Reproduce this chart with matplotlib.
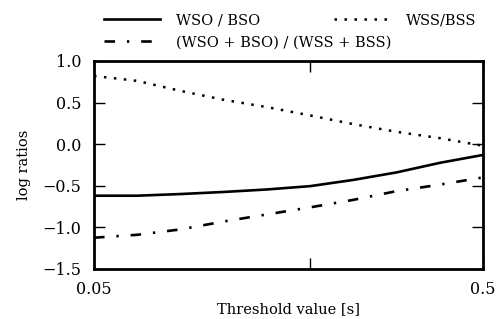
import matplotlib
matplotlib.use("Agg")
import matplotlib.pyplot as plt

plt.rcParams['font.family'] = ['DejaVu Serif']

# threshold values [s]
threshold = [0.05, 0.10, 0.15, 0.20, 0.25, 0.30, 0.35, 0.40, 0.45, 0.50]

# log ratios
wso_bso = [-0.62, -0.62, -0.60, -0.575, -0.545, -0.505, -0.43, -0.34, -0.225, -0.13]
wss_bss = [0.82, 0.76, 0.64, 0.533, 0.445, 0.345, 0.24, 0.148, 0.072, -0.02]
sum_ratio = [-1.125, -1.09, -1.025, -0.93, -0.845, -0.76, -0.67, -0.565, -0.487, -0.40]

xticks = [0.05, 0.3, 0.5]
xticklabels = ['0.05', '', '0.5']
yticks = [-1.5, -1.0, -0.5, 0.0, 0.5, 1.0]

fig = plt.figure(figsize=(5, 3.19), dpi=100)
ax = fig.add_axes([0.188, 0.157, 0.778, 0.652])

ax.plot(threshold, wso_bso, color='black', lw=1.9, label='WSO / BSO')
ax.plot(threshold, sum_ratio, color='black', lw=1.9, linestyle=(0, (4, 4.5, 0.9, 4.5)),
        label='(WSO + BSO) / (WSS + BSS)')
ax.plot(threshold, wss_bss, color='black', lw=1.8, linestyle=(0, (1, 3)),
        label='WSS/BSS')

ax.set_xlim(0.05, 0.5)
ax.set_ylim(-1.5, 1.0)
ax.set_xticks(xticks)
ax.set_xticklabels(xticklabels)
ax.set_yticks(yticks)
ax.tick_params(direction='in', length=8, width=1, top=True, right=True,
               labelsize=11.5, pad=9)
for s in ax.spines.values():
    s.set_linewidth(2)

ax.set_xlabel('Threshold value [s]', fontsize=10.5, labelpad=3)
ax.set_ylabel('log ratios', fontsize=10.5, labelpad=8)

ax.legend(ncol=2, frameon=False, loc='lower center', bbox_to_anchor=(0.505, 1.0),
          fontsize=10.5, handlelength=3.8, handletextpad=1.15, columnspacing=-3.97,
          borderaxespad=0.4, labelspacing=0.55)

fig.savefig('out.png', dpi=100)
